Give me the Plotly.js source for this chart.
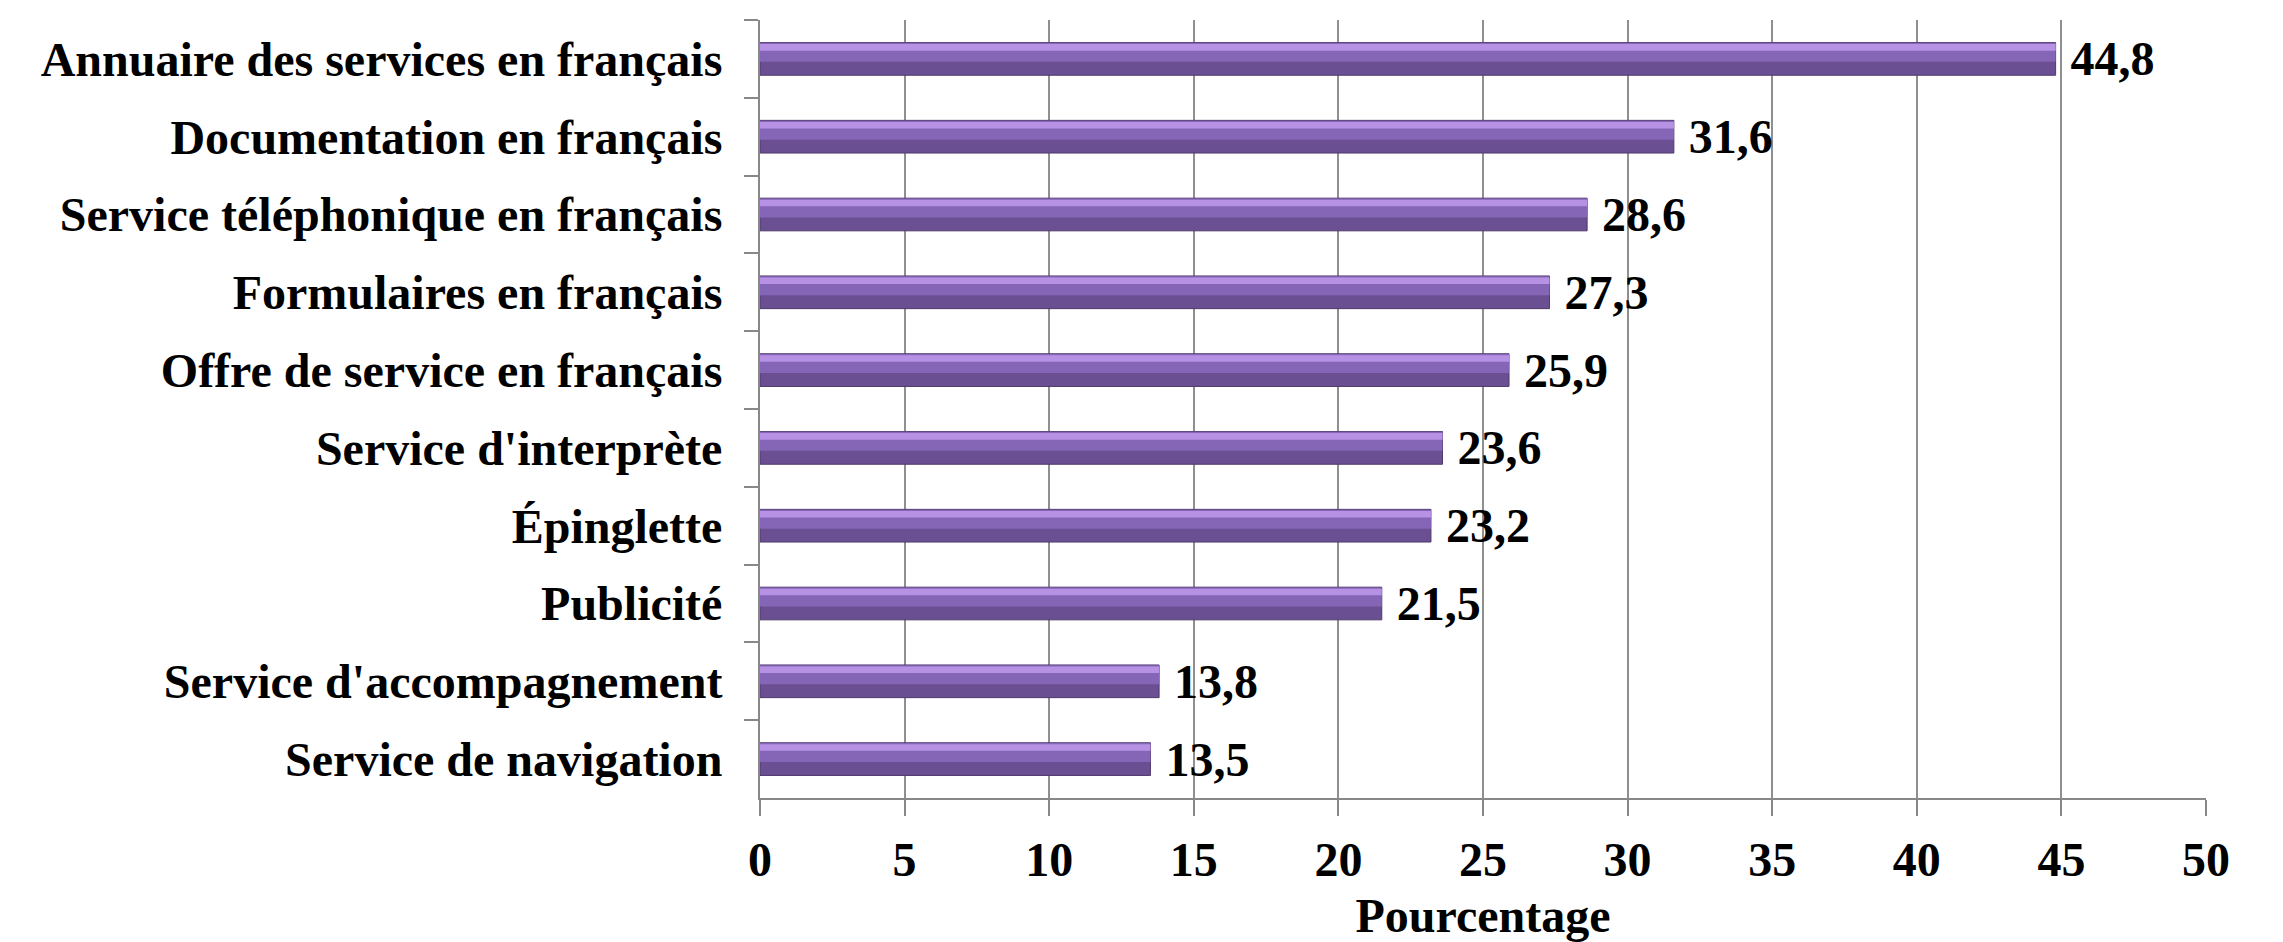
<!DOCTYPE html>
<html>
<head>
<meta charset="utf-8">
<script src="https://cdn.plot.ly/plotly-3.0.1.min.js"></script>
<style>
html,body{margin:0;padding:0;background:#fff;}
#chart{width:2283px;height:942px;}
</style>
</head>
<body>
<div id="chart"></div>
<script>
// Data (top to bottom as displayed)
const categories = [
  "Annuaire des services en français",
  "Documentation en français",
  "Service téléphonique en français",
  "Formulaires en français",
  "Offre de service en français",
  "Service d'interprète",
  "Épinglette",
  "Publicité",
  "Service d'accompagnement",
  "Service de navigation"
];
const values = [44.8, 31.6, 28.6, 27.3, 25.9, 23.6, 23.2, 21.5, 13.8, 13.5];
const xTickValues = [0, 5, 10, 15, 20, 25, 30, 35, 40, 45, 50];
const xTitle = "Pourcentage";

const FONT = "'Liberation Serif', 'Times New Roman', serif";
const FS = 48;
const BW = 0.42;

const base = {
  type: 'bar', orientation: 'h', y: categories, x: values,
  width: BW,
  marker: {color: '#6b4f93', line: {color: '#4e3a6b', width: 1}},
  texttemplate: '\u00a0%{x:.1f}', textposition: 'outside',
  constraintext: 'none', cliponaxis: false,
  textfont: {family: FONT, size: FS, color: '#000', weight: 'bold'},
  hoverinfo: 'skip', showlegend: false
};
const mid = {
  type: 'bar', orientation: 'h', y: categories, x: values,
  width: BW * 0.58, offset: -BW / 2 + 0.004,
  marker: {color: '#8565b6', line: {width: 0}},
  textposition: 'none', hoverinfo: 'skip', showlegend: false
};
const hi = {
  type: 'bar', orientation: 'h', y: categories, x: values,
  width: BW * 0.2, offset: -BW / 2 + 0.02,
  marker: {color: '#b792e4', line: {width: 0}},
  textposition: 'none', hoverinfo: 'skip', showlegend: false
};

const layout = {
  width: 2283, height: 942,
  margin: {l: 760, r: 77, t: 20, b: 144},
  paper_bgcolor: '#fff', plot_bgcolor: '#fff',
  barmode: 'overlay',
  separators: ', ',
  font: {family: FONT, color: '#000'},
  xaxis: {
    range: [0, 50], tickvals: xTickValues, ticktext: xTickValues.map(String),
    showgrid: true, gridcolor: '#8f8f8f', gridwidth: 2,
    showline: true, linecolor: '#888', linewidth: 2,
    ticks: 'outside', ticklen: 16, tickcolor: '#888', tickwidth: 2,
    ticklabelstandoff: 2,
    tickfont: {family: FONT, size: FS, color: '#000', weight: 'bold'},
    zeroline: false,
    title: {text: xTitle, font: {family: FONT, size: FS, color: '#000', weight: 'bold'}, standoff: 24},
    fixedrange: true
  },
  yaxis: {
    autorange: 'reversed', type: 'category',
    showgrid: false, showline: true, linecolor: '#888', linewidth: 2,
    ticks: 'outside', ticklen: 14, tickcolor: '#888', tickwidth: 2,
    tickson: 'boundaries', ticklabelstandoff: 26,
    tickfont: {family: FONT, size: FS, color: '#000', weight: 'bold'},
    fixedrange: true
  }
};

Plotly.newPlot('chart', [base, mid, hi], layout, {displayModeBar: false, staticPlot: true});
</script>
</body>
</html>
